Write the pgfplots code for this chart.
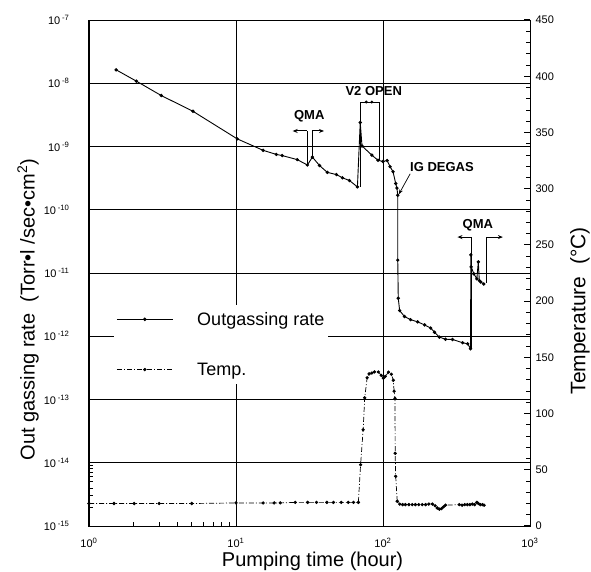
\documentclass[border=0pt]{standalone}
\usepackage{pgfplots}
\pgfplotsset{compat=1.18}
\usepackage{pgfplotstable}
\usepackage{fontspec}
\setmainfont{Liberation Sans}
\usetikzlibrary{arrows.meta}

\pgfplotstableread{
t r
1.53 1.63e-8
2.10 1.08e-8
3.10 6.4e-9
5.1 3.6e-9
10.2 1.32e-9
15.3 8.7e-10
18.8 7.5e-10
20.6 7.2e-10
26.1 6.2e-10
30.6 5.1e-10
33.1 6.8e-10
37.0 5.0e-10
41.8 3.9e-10
48.2 3.6e-10
53.0 3.2e-10
59.1 2.9e-10
67 2.3e-10
70 2.4e-9
72 1.02e-9
84 7.3e-10
92.5 6.05e-10
100 5.8e-10
106.7 6.0e-10
111.7 4.8e-10
117 4.0e-10
122 2.6e-10
124.4 2.2e-10
126 1.7e-10
126 1.6e-11
127 4.0e-12
129.8 2.55e-12
140 2.05e-12
154 1.83e-12
172 1.69e-12
192 1.51e-12
211 1.35e-12
224 1.16e-12
242 9.7e-13
266 8.97e-13
297 8.9e-13
348 7.9e-13
377 7.6e-13
394 6.35e-13
396 1.94e-11
398 1.25e-11
415 9.7e-12
435 8.1e-12
445 1.5e-11
452 7.6e-12
463 7.2e-12
485 6.7e-12
}\ratetable

\pgfplotstableread{
t T
1.0 20
1.48 20
2.03 20
3.0 20
5.0 20
10 20.5
15.3 20.5
18.2 20.5
20 20.5
25.3 21
30.7 21
35.3 21
41.5 21
46 21
52 21
58 21
63 21
68 21
70.4 54.5
73.3 85.6
75.1 114
78 131.8
80.5 135.3
84 136
87.5 137
93 137
97.3 134
100.5 131.5
103.5 133
109 136.8
114 135
117.5 129.6
119 119.8
120.7 113.5
121 64.6
122 44.2
125 22
130 19.5
136 19
142 19
150 19
158 19
166 19
175 19
185 19
195 19
205 19.5
217 19.5
226 18
234 16
242 15
250 15.5
258 17
266 18.5
330 19
345 18.5
360 19
375 19
390 19
405 19.5
420 19
435 21
445 20
460 19
475 19
487 18.5
}\temptable

\begin{document}
\begin{tikzpicture}
\useasboundingbox (-89pt,-46pt) rectangle (502pt,526pt);
\begin{axis}[
  scale only axis, width=441pt, height=506pt,
  xmode=log, ymode=log, log basis y=10, log basis x=10,
  xmin=1, xmax=1000, ymin=1e-15, ymax=1e-7,
  xtick={1,10,100,1000},
  ytick={1e-15,1e-14,1e-13,1e-12,1e-11,1e-10,1e-9,1e-8,1e-7},
  xticklabel={10\textsuperscript{\pgfmathparse{int(round(\tick))}\pgfmathresult}},
  yticklabel={10\,\textsuperscript{\pgfmathparse{int(round(\tick))}\pgfmathresult}},
  xtick pos=left, ytick pos=left,
  tickwidth=6pt, subtickwidth=4pt,
  every tick/.style={black, line width=1pt},
  grid=major,
  every major grid/.style={black, line width=0.6pt},
  axis line style={line width=1pt},
  tick label style={font=\fontsize{11}{13}\selectfont},
  yticklabel style={xshift=-16pt},
  xticklabel style={yshift=-9pt},
  xlabel={Pumping time (hour)},
  ylabel={Out gassing rate\ \ (Torr•l /sec•cm\textsuperscript{2})},
  xlabel style={font=\fontsize{20}{22}\selectfont, at={(axis description cs:0.507,-0.069)}, anchor=center},
  ylabel style={font=\fontsize{20}{22}\selectfont, at={(axis description cs:-0.138,0.428)}, anchor=center},
]
\addplot[black, line width=0.9pt, mark=*, mark size=1.2pt] table[x=t, y=r] {\ratetable};

% tick marks on the left and bottom axis lines
\pgfplotsinvokeforeach{-15,-14,-13,-12,-11,-10,-9,-8}{
  \pgfplotsinvokeforeach{2,3,4,5,6,7,8,9}{
    \draw[line width=0.8pt] (axis cs:1,##1e#1) -- ++(4pt,0pt);
  }
}
\pgfplotsinvokeforeach{0,1,2}{
  \pgfplotsinvokeforeach{2,3,4,5,6,7,8,9}{
    \draw[line width=0.8pt] (axis cs:##1e#1,1e-15) -- ++(0pt,4pt);
  }
}

% QMA (first)
\node[font=\bfseries\fontsize{13}{15}\selectfont] at (axis cs:31.5,3.0e-9) {QMA};
\draw[line width=0.7pt] (axis cs:30.6,5.1e-10) -- (axis cs:30.6,1.76e-9);
\draw[line width=0.7pt] (axis cs:33.1,6.8e-10) -- (axis cs:33.1,1.76e-9);
\draw[line width=1pt, {Stealth[length=5pt,width=4pt]}-] (axis cs:24.3,1.76e-9) -- (axis cs:30.6,1.76e-9);
\draw[line width=1pt, -{Stealth[length=5pt,width=4pt]}] (axis cs:33.1,1.76e-9) -- (axis cs:39.7,1.76e-9);
% V2 OPEN
\node[font=\bfseries\fontsize{13}{15}\selectfont] at (axis cs:86.5,7.5e-9) {V2 OPEN};
\draw[line width=0.8pt] (axis cs:70,2.3e-10) -- (axis cs:70,5.05e-9) -- (axis cs:94,5.05e-9) -- (axis cs:94,6.0e-10);
\fill (axis cs:77,5.05e-9) circle (1.6pt);
\fill (axis cs:84,5.05e-9) circle (1.6pt);
% IG DEGAS
\node[font=\bfseries\fontsize{13}{15}\selectfont] at (axis cs:252,4.7e-10) {IG DEGAS};
\draw[line width=0.7pt, -{Stealth[length=5pt,width=3.5pt]}] (axis cs:153,3.7e-10) -- (axis cs:128,1.75e-10);
% QMA (second)
\node[font=\bfseries\fontsize{13}{15}\selectfont] at (axis cs:442,5.75e-11) {QMA};
\draw[line width=0.7pt] (axis cs:399,6.35e-13) -- (axis cs:399,3.7e-11);
\draw[line width=0.7pt] (axis cs:508,7.0e-12) -- (axis cs:508,3.7e-11);
\draw[line width=1pt, {Stealth[length=5pt,width=4pt]}-] (axis cs:321,3.7e-11) -- (axis cs:399,3.7e-11);
\draw[line width=1pt, -{Stealth[length=5pt,width=4pt]}] (axis cs:508,3.7e-11) -- (axis cs:654,3.7e-11);
\end{axis}

\begin{axis}[
  scale only axis, width=441pt, height=506pt,
  xmode=log, xmin=1, xmax=1000,
  ymin=0, ymax=450,
  axis x line=none, axis y line*=right,
  ytick={0,50,...,450},
  ytick pos=right,
  tickwidth=6pt,
  every tick/.style={black, line width=1pt},
  axis line style={line width=1pt},
  /pgf/number format/assume math mode=true,
  tick label style={font=\fontsize{11}{13}\selectfont},
  yticklabel style={xshift=2pt},
  ylabel={Temperature\ \ (°C)},
  ylabel style={font=\fontsize{21}{23}\selectfont, at={(axis description cs:1.113,0.425)}, anchor=center},
  legend style={at={(axis description cs:0.057,0.437)}, anchor=north west, draw=none, fill=white,
    font=\fontsize{18}{20}\selectfont, inner xsep=2pt, inner ysep=5pt, row sep=32pt,
    /tikz/every odd column/.append style={column sep=22pt}},
  legend cell align=left,
  legend image code/.code={\draw[mark repeat=2,mark phase=2,#1] plot coordinates {(0pt,0pt) (28pt,0pt) (56pt,0pt)};},
]
\addlegendimage{black, line width=0.9pt, mark=*, mark size=1.3pt}
\addlegendentry{Outgassing rate}
\addplot[black, line width=0.7pt, dash pattern=on 5pt off 2pt on 1pt off 2pt, mark=*, mark size=1.3pt, mark options={solid}] table[x=t, y=T] {\temptable};
\addlegendentry{Temp.}
% tick marks on the right axis line
\pgfplotsinvokeforeach{10,20,30,40,60,70,80,90,110,120,130,140,160,170,180,190,210,220,230,240,260,270,280,290,310,320,330,340,360,370,380,390,410,420,430,440}{
  \draw[line width=0.8pt] (axis cs:1000,#1) -- ++(-4pt,0pt);
}
\pgfplotsinvokeforeach{50,100,150,200,250,300,350,400}{
  \draw[line width=0.8pt] (axis cs:1000,#1) -- ++(-6pt,0pt);
}
\end{axis}
\end{tikzpicture}
\end{document}
